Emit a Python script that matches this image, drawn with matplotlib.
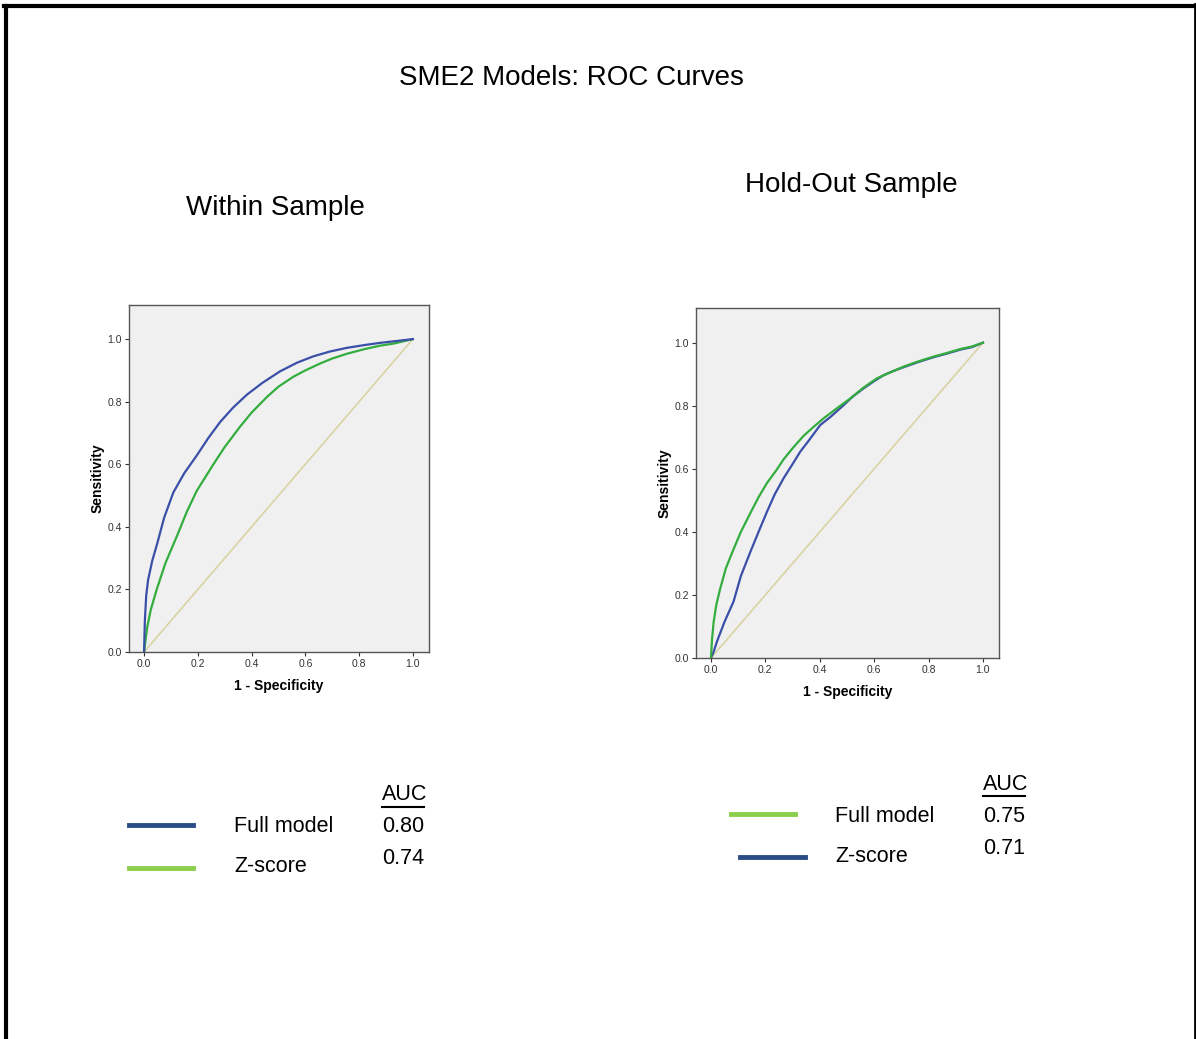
import matplotlib
matplotlib.use("Agg")
import matplotlib.pyplot as plt
from matplotlib.lines import Line2D

W, H = 1196, 1039

# ---- data ----
within_fpr_full = [0.0, 0.003, 0.008, 0.015, 0.03, 0.05, 0.075, 0.109, 0.15, 0.196, 0.24, 0.283, 0.33, 0.382, 0.44, 0.506, 0.57, 0.63, 0.69, 0.754, 0.82, 0.878, 0.94, 1.0]
within_tpr_full = [0.0, 0.10, 0.18, 0.23, 0.29, 0.35, 0.43, 0.51, 0.572, 0.628, 0.685, 0.735, 0.78, 0.822, 0.86, 0.897, 0.925, 0.945, 0.96, 0.972, 0.981, 0.988, 0.994, 1.0]
within_fpr_z = [0.0, 0.005, 0.012, 0.025, 0.047, 0.08, 0.122, 0.16, 0.196, 0.258, 0.30, 0.357, 0.40, 0.457, 0.50, 0.556, 0.60, 0.655, 0.70, 0.754, 0.82, 0.878, 0.93, 1.0]
within_tpr_z = [0.0, 0.035, 0.08, 0.135, 0.20, 0.285, 0.37, 0.45, 0.515, 0.60, 0.655, 0.72, 0.765, 0.815, 0.848, 0.88, 0.90, 0.922, 0.938, 0.953, 0.968, 0.979, 0.986, 1.0]

hold_fpr_full = [0.0, 0.004, 0.01, 0.02, 0.034, 0.055, 0.083, 0.11, 0.145, 0.175, 0.206, 0.24, 0.267, 0.30, 0.341, 0.38, 0.414, 0.46, 0.512, 0.56, 0.61, 0.66, 0.708, 0.76, 0.819, 0.87, 0.917, 0.96, 1.0]
hold_tpr_full = [0.0, 0.06, 0.115, 0.17, 0.22, 0.285, 0.345, 0.40, 0.46, 0.51, 0.555, 0.595, 0.63, 0.665, 0.705, 0.735, 0.76, 0.79, 0.823, 0.857, 0.887, 0.906, 0.924, 0.94, 0.956, 0.968, 0.98, 0.988, 1.0]
hold_fpr_z = [0.0, 0.01, 0.022, 0.05, 0.083, 0.11, 0.145, 0.175, 0.206, 0.235, 0.267, 0.30, 0.328, 0.36, 0.402, 0.44, 0.488, 0.52, 0.561, 0.60, 0.635, 0.67, 0.708, 0.76, 0.819, 0.87, 0.917, 0.96, 1.0]
hold_tpr_z = [0.0, 0.02, 0.052, 0.115, 0.179, 0.26, 0.337, 0.40, 0.464, 0.52, 0.57, 0.615, 0.654, 0.69, 0.739, 0.765, 0.802, 0.828, 0.855, 0.878, 0.897, 0.91, 0.922, 0.938, 0.954, 0.966, 0.978, 0.986, 1.0]

ticks = [0.0, 0.2, 0.4, 0.6, 0.8, 1.0]
tick_labels = ["0.0", "0.2", "0.4", "0.6", "0.8", "1.0"]

legend_left_names = ["Full model", "Z-score"]
legend_left_auc = ["0.80", "0.74"]
legend_right_names = ["Full model", "Z-score"]
legend_right_auc = ["0.75", "0.71"]

BLUE = "#3a50a8"
GREEN = "#33ad3e"
DIAG = "#d9d3a3"
LEG_BLUE = "#2b4c86"
LEG_GREEN = "#8ccf4b"

plt.rcParams['font.family'] = ['Liberation Sans', 'DejaVu Sans']

fig = plt.figure(figsize=(W / 100, H / 100), dpi=100)


def fx(px):
    return px / W


def fy(py):
    return 1 - py / H


def make_axes(left, top, right, bottom, xlim, ylim):
    ax = fig.add_axes([fx(left), fy(bottom), fx(right) - fx(left), fy(top) - fy(bottom)])
    ax.set_facecolor("#f0f0f0")
    ax.set_xlim(*xlim)
    ax.set_ylim(*ylim)
    ax.set_xticks(ticks)
    ax.set_xticklabels(tick_labels)
    ax.set_yticks(ticks)
    ax.set_yticklabels(tick_labels)
    ax.tick_params(labelsize=7.5, length=3, width=0.8, colors="#333333", pad=2)
    for s in ax.spines.values():
        s.set_color("#555555")
        s.set_linewidth(1.0)
    ax.set_xlabel("1 - Specificity", fontsize=10, fontweight="bold", labelpad=7)
    ax.set_ylabel("Sensitivity", fontsize=10, fontweight="bold", labelpad=2)
    ax.plot([0, 1], [0, 1], color=DIAG, lw=1.2)
    return ax


ax1 = make_axes(129, 305, 429, 652, (-0.056, 1.06), (0, 1.109))
ax1.plot(within_fpr_z, within_tpr_z, color=GREEN, lw=1.6)
ax1.plot(within_fpr_full, within_tpr_full, color=BLUE, lw=1.6)

ax2 = make_axes(696, 308, 999, 658, (-0.055, 1.059), (0, 1.11))
ax2.plot(hold_fpr_z, hold_tpr_z, color=BLUE, lw=1.6)
ax2.plot(hold_fpr_full, hold_tpr_full, color=GREEN, lw=1.6)

# titles
fig.text(fx(571), fy(78), "SME2 Models: ROC Curves", fontsize=20, ha="center", va="center")
fig.text(fx(275), fy(208), "Within Sample", fontsize=20, ha="center", va="center")
fig.text(fx(851), fy(185), "Hold-Out Sample", fontsize=20, ha="center", va="center")


# legends
def legend_block(lines, names, aucs, name_x, auc_x, name_ys, auc_ys, auc_title_y, colors):
    for (x0, x1, y), c in zip(lines, colors):
        fig.add_artist(Line2D([fx(x0), fx(x1)], [fy(y), fy(y)], color=c, lw=3.5))
    for n, y in zip(names, name_ys):
        fig.text(fx(name_x), fy(y), n, fontsize=15.5, ha="left", va="center")
    for a, y in zip(aucs, auc_ys):
        fig.text(fx(auc_x), fy(y), a, fontsize=15.5, ha="left", va="center")
    fig.text(fx(auc_x), fy(auc_title_y), "AUC", fontsize=15.5, ha="left", va="center")
    fig.add_artist(Line2D([fx(auc_x), fx(auc_x + 42)], [fy(auc_title_y + 12), fy(auc_title_y + 12)], color="black", lw=1.5))


legend_block([(129, 193, 825), (129, 193, 868)], legend_left_names, legend_left_auc,
             234, 382, [827, 867], [827, 858], 795, [LEG_BLUE, LEG_GREEN])
legend_block([(731, 795, 814), (740, 805, 857)], legend_right_names, legend_right_auc,
             835, 983, [816, 856], [816, 848], 784, [LEG_GREEN, LEG_BLUE])

# frame around the slide
fig.add_artist(Line2D([fx(6), fx(6)], [fy(6), 0], color="black", lw=3))
fig.add_artist(Line2D([fx(4), fx(1195)], [fy(6), fy(6)], color="black", lw=3))
fig.add_artist(Line2D([fx(1195), fx(1195)], [fy(4), 0], color="black", lw=2))

fig.savefig("out.png", dpi=100)
